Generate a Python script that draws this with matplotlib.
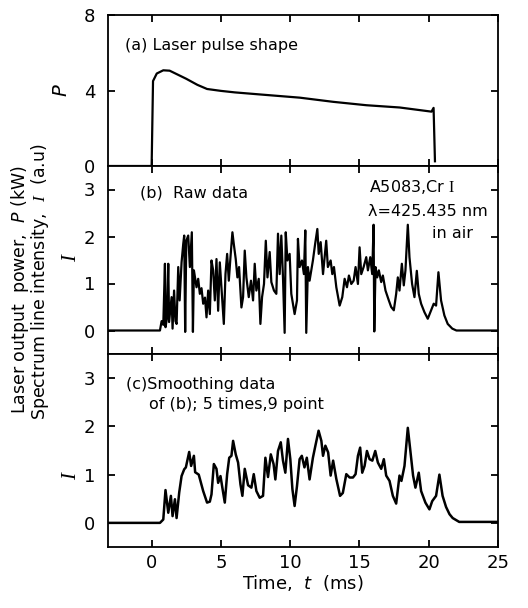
import matplotlib
matplotlib.use("Agg")
import matplotlib.pyplot as plt

plt.rcParams['font.family'] = ['DejaVu Sans']
plt.rcParams['mathtext.fontset'] = 'custom'
plt.rcParams['mathtext.rm'] = 'Liberation Serif'
plt.rcParams['mathtext.it'] = 'Liberation Serif:italic'
plt.rcParams['mathtext.sf'] = 'DejaVu Sans:italic'

# --- DATA ---
# (a) laser pulse shape, P (kW)
pulse_t = [-3.2, 0.0, 0.1, 0.37, 0.84, 1.3, 2.5, 3.3, 4.0, 5.0, 6.0, 8.0, 10.7,
           13.1, 15.5, 17.9, 20.2, 20.35, 20.45]
pulse_p = [0.0, 0.0, 4.5, 4.9, 5.07, 5.05, 4.62, 4.3, 4.08, 3.98, 3.9, 3.78, 3.62,
           3.4, 3.22, 3.1, 2.88, 3.08, 0.25]

# (b) raw spectrum line intensity, I (a.u)
raw_t = [-3.2, 0.60, 0.72, 0.84, 0.96, 1.00, 1.10, 1.20, 1.26, 1.44, 1.51, 1.62, 1.72,
         1.80, 1.92, 2.02, 2.16, 2.28, 2.35, 2.42, 2.50, 2.64, 2.76, 2.90, 2.98, 3.05,
         3.24, 3.36, 3.48, 3.60, 3.72, 3.85, 3.96, 4.08, 4.20, 4.32, 4.44, 4.56, 4.68,
         4.80, 4.92, 5.04, 5.21, 5.33, 5.45, 5.57, 5.69, 5.83, 5.93, 6.07, 6.19, 6.31,
         6.48, 6.60, 6.72, 6.84, 7.01, 7.17, 7.32, 7.44, 7.56, 7.73, 7.85, 7.97, 8.11,
         8.24, 8.36, 8.52, 8.64, 8.83, 9.00, 9.12, 9.24, 9.36, 9.48, 9.60, 9.68, 9.80,
         9.96, 10.08, 10.32, 10.49, 10.56, 10.68, 10.85, 10.99, 11.09, 11.16, 11.28,
         11.40, 11.52, 11.64, 11.80, 11.96, 12.06, 12.20, 12.37, 12.49, 12.60, 12.72,
         12.92, 13.04, 13.16, 13.33, 13.57, 13.76, 13.93, 14.10, 14.24, 14.41, 14.58,
         14.72, 14.89, 15.01, 15.13, 15.30, 15.49, 15.61, 15.78, 15.92, 16.02, 16.07,
         16.16, 16.28, 16.40, 16.57, 16.69, 16.88, 17.12, 17.29, 17.48, 17.65, 17.77,
         17.89, 18.06, 18.20, 18.32, 18.49, 18.61, 18.80, 18.97, 19.14, 19.28, 19.45,
         19.69, 19.93, 20.17, 20.36, 20.53, 20.70, 20.89, 21.13, 21.37, 21.70, 22.00,
         25.2]
raw_i = [0.0, 0.0, 0.2, 0.12, 1.42, 0.07, 0.25, 1.42, 0.18, 0.71, 0.04, 0.85, 0.2,
         0.14, 1.35, 0.64, 1.45, 1.84, 2.02, -0.03, 1.91, 2.02, 1.35, 2.09, -0.03, 1.28,
         0.92, 1.1, 0.78, 0.9, 0.57, 0.7, 0.28, 0.85, 0.35, 1.49, 1.28, 0.64, 1.52,
         0.42, 1.45, 0.92, 0.14, 1.2, 1.63, 1.06, 1.56, 2.09, 1.84, 1.52, 1.13, 1.35,
         0.49, 0.71, 1.7, 1.13, 0.71, 1.06, 0.64, 1.42, 0.85, 1.1, 0.14, 0.71, 0.99,
         1.91, 1.13, 1.67, 1.03, 0.85, 0.78, 2.06, 1.2, 2.02, 1.13, -0.05, 2.09, 1.49,
         1.63, 0.78, 0.35, 0.64, 1.95, 1.35, 1.49, 1.2, 2.13, -0.05, 1.35,
         1.06, 1.28, 1.49, 1.84, 2.16, 1.63, 1.88, 1.2, 1.56, 1.91, 1.35,
         1.49, 1.2, 1.35, 0.92, 0.53, 0.71, 1.1, 0.92, 1.17, 0.99, 1.06,
         1.35, 0.99, 1.77, 1.2, 1.35, 1.56, 1.28, 1.56, 1.2, 2.25, -0.02,
         1.35, 1.13, 1.28, 1.03, 1.17, 0.85, 0.64, 0.5, 0.43, 0.78, 1.13,
         0.85, 1.42, 0.96, 1.28, 2.25, 1.56, 0.99, 0.71, 1.27, 0.78, 0.57,
         0.39, 0.25, 0.43, 0.57, 0.53, 1.24, 0.64, 0.32, 0.14, 0.04, 0.0,
         0.0]

# (c) smoothed intensity (5 times, 9 point)
smooth_t = [-3.2, 0.6, 0.84, 1.0, 1.2, 1.39, 1.51, 1.68, 1.8, 1.99, 2.16, 2.35, 2.47,
            2.71, 2.85, 3.05, 3.14, 3.4, 3.72, 4.0, 4.2, 4.32, 4.49, 4.68, 4.8, 4.97,
            5.16, 5.28, 5.45, 5.6, 5.76, 5.88, 6.07, 6.24, 6.41, 6.55, 6.72, 6.96, 7.2,
            7.37, 7.56, 7.8, 8.04, 8.21, 8.4, 8.6, 8.8, 8.93, 9.12, 9.32, 9.48, 9.65,
            9.84, 10.01, 10.16, 10.32, 10.49, 10.68, 10.84, 11.03, 11.2, 11.4, 11.64,
            11.82, 12.05, 12.25, 12.37, 12.54, 12.74, 12.92, 13.1, 13.33, 13.6, 13.8,
            14.05, 14.29, 14.53, 14.72, 14.89, 15.05, 15.2, 15.37, 15.54, 15.73, 15.93,
            16.14, 16.33, 16.57, 16.76, 16.93, 17.17, 17.41, 17.65, 17.89, 18.03, 18.25,
            18.49, 18.66, 18.87, 19.04, 19.28, 19.45, 19.76, 20.05, 20.25, 20.53, 20.77,
            21.0, 21.25, 21.5, 21.73, 22.2, 25.2]
smooth_i = [0.0, 0.0, 0.07, 0.68, 0.21, 0.56, 0.14, 0.49, 0.1, 0.63, 0.97, 1.11, 1.15,
            1.47, 1.18, 1.39, 1.05, 1.0, 0.66, 0.42, 0.44, 0.59, 1.22, 1.12, 0.83, 0.97,
            0.63, 0.42, 1.01, 1.35, 1.39, 1.7, 1.42, 1.25, 0.8, 0.56, 1.12, 0.78, 0.73,
            1.01, 0.66, 0.52, 0.56, 1.35, 0.95, 1.42, 1.22, 0.9, 1.49, 1.67, 1.29, 1.04,
            1.74, 1.32, 0.7, 0.35, 0.76, 1.32, 1.39, 1.15, 1.35, 0.9, 1.35,
            1.6, 1.91, 1.7, 1.39, 1.6, 1.46, 0.98, 1.29, 0.91, 0.56, 0.62,
            1.01, 0.94, 0.94, 1.01, 1.39, 1.56, 1.04, 1.18, 1.49, 1.32, 1.29,
            1.49, 1.25, 1.12, 1.32, 0.98, 0.87, 0.56, 0.4, 0.98, 0.87, 1.18,
            1.97, 1.53, 0.98, 0.73, 1.04, 0.66, 0.42, 0.28, 0.45, 0.56, 1.0,
            0.56, 0.33, 0.18, 0.1, 0.02, 0.02]

x_ticks = [0, 5, 10, 15, 20, 25]
p_ticks = [0, 4, 8]
i_ticks = [0, 1, 2, 3]

W, H = 528, 608
fig = plt.figure(figsize=(W / 100, H / 100), dpi=100)

left, right = 108 / W, 498 / W
ax_a = fig.add_axes([left, 1 - 166 / H, right - left, 151 / H])
ax_b = fig.add_axes([left, 1 - 354 / H, right - left, 188 / H])
ax_c = fig.add_axes([left, 1 - 547 / H, right - left, 193 / H])

for ax in (ax_a, ax_b, ax_c):
    ax.set_xlim(-3.15, 25)
    ax.set_xticks(x_ticks)
    ax.tick_params(direction='in', top=True, right=True, length=5, width=1.3,
                   labelsize=13)
    ax.tick_params(axis='y', pad=9)
    ax.tick_params(axis='x', pad=5)
    for sp in ax.spines.values():
        sp.set_linewidth(1.3)

ax_a.plot(pulse_t, pulse_p, color='black', lw=1.6)
ax_a.set_ylim(0, 8)
ax_a.set_yticks(p_ticks)
ax_a.tick_params(labelbottom=False)
ax_a.set_ylabel(r'$\mathsf{P}$', fontsize=14, rotation=90)
ax_a.yaxis.set_label_coords(-0.094, 0.5)
ax_a.text(0.044, 0.80, '(a) Laser pulse shape', transform=ax_a.transAxes,
          fontsize=11.5, va='center')

ax_b.plot(raw_t, raw_i, color='black', lw=1.6)
ax_b.set_ylim(-0.5, 3.5)
ax_b.set_yticks(i_ticks)
ax_b.tick_params(labelbottom=False)
ax_b.set_ylabel(r'$I$', fontsize=15, rotation=90)
ax_b.yaxis.set_label_coords(-0.073, 0.516)
ax_b.text((140 - 108) / 390, (354 - 193) / 188, '(b)  Raw data', transform=ax_b.transAxes,
          fontsize=11.5, va='center')
ax_b.text((369 - 108) / 390, (354 - 187) / 188, r'A5083,Cr $\mathrm{I}$',
          transform=ax_b.transAxes, fontsize=11.5, va='center')
ax_b.text((368 - 108) / 390, (354 - 212) / 188, 'λ=425.435 nm',
          transform=ax_b.transAxes, fontsize=11.5, va='center')
ax_b.text((432 - 108) / 390, (354 - 234) / 188, 'in air',
          transform=ax_b.transAxes, fontsize=11.5, va='center')

ax_c.plot(smooth_t, smooth_i, color='black', lw=1.8)
ax_c.set_ylim(-0.5, 3.5)
ax_c.set_yticks(i_ticks)
ax_c.set_ylabel(r'$I$', fontsize=15, rotation=90)
ax_c.yaxis.set_label_coords(-0.073, 0.373)
ax_c.text((126 - 108) / 390, (547 - 385) / 193, '(c)Smoothing data',
          transform=ax_c.transAxes, fontsize=11.5, va='center')
ax_c.text((149 - 108) / 390, (547 - 405) / 193, 'of (b); 5 times,9 point',
          transform=ax_c.transAxes, fontsize=11.5, va='center')
ax_c.set_xlabel(r'Time,  $\mathsf{t}$  (ms)', fontsize=13, labelpad=1)

fig.text(20 / W, 1 - 290 / H, r'Laser output  power,  $\mathsf{P}$ (kW)',
         rotation=90, ha='center', va='center', fontsize=12.5)
fig.text(40 / W, 1 - 282 / H, r'Spectrum line intensity,  $I$  (a.u)',
         rotation=90, ha='center', va='center', fontsize=12.5)

fig.savefig('out.png', dpi=100)
